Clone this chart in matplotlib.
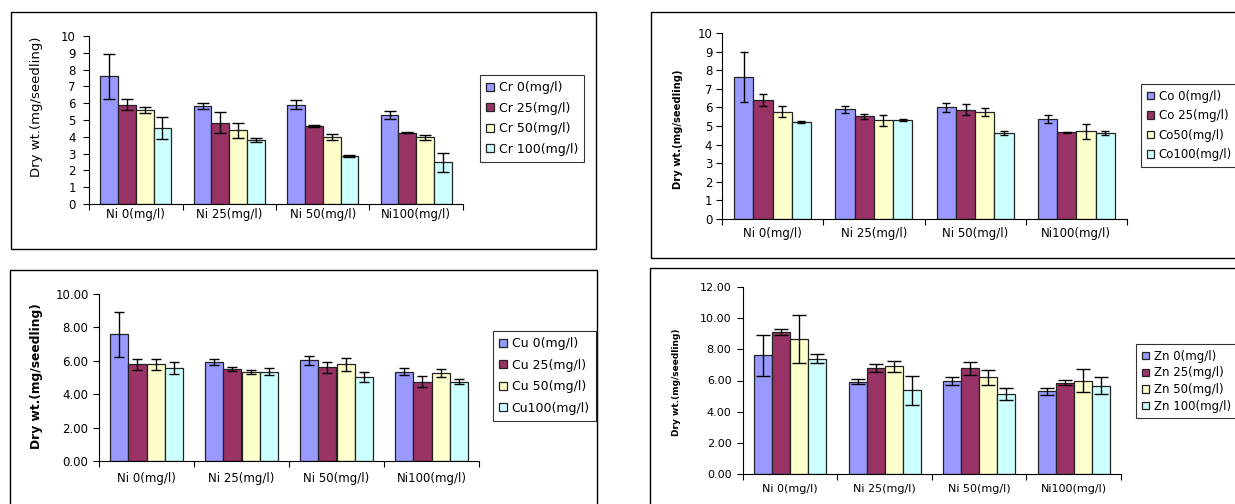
import numpy as np
import matplotlib
matplotlib.use("Agg")
import matplotlib.pyplot as plt
from matplotlib.patches import Rectangle
from matplotlib.ticker import FormatStrFormatter

# Excel-style wide text: DejaVu Sans is the closest wide sans
plt.rcParams["font.family"] = ["DejaVu Sans"]

W, H = 1235, 504

groups = ["Ni 0(mg/l)", "Ni 25(mg/l)", "Ni 50(mg/l)", "Ni100(mg/l)"]
colors = ["#9999FF", "#993366", "#FFFFCC", "#CCFFFF"]

# Cr panel
cr_labels = ["Cr 0(mg/l)", "Cr 25(mg/l)", "Cr 50(mg/l)", "Cr 100(mg/l)"]
cr_means = [[7.60, 5.86, 5.92, 5.29],
            [5.92, 4.85, 4.65, 4.24],
            [5.62, 4.38, 3.98, 3.98],
            [4.53, 3.80, 2.85, 2.48]]
cr_err = [[1.35, 0.18, 0.28, 0.26],
          [0.33, 0.62, 0.05, 0.02],
          [0.18, 0.45, 0.20, 0.15],
          [0.67, 0.10, 0.05, 0.55]]

# Co panel
co_labels = ["Co 0(mg/l)", "Co 25(mg/l)", "Co50(mg/l)", "Co100(mg/l)"]
co_means = [[7.63, 5.89, 6.01, 5.37],
            [6.41, 5.53, 5.87, 4.67],
            [5.76, 5.30, 5.76, 4.72],
            [5.22, 5.31, 4.61, 4.61]]
co_err = [[1.35, 0.20, 0.24, 0.23],
          [0.33, 0.14, 0.29, 0.03],
          [0.29, 0.30, 0.20, 0.40],
          [0.05, 0.05, 0.10, 0.10]]

# Cu panel
cu_labels = ["Cu 0(mg/l)", "Cu 25(mg/l)", "Cu 50(mg/l)", "Cu100(mg/l)"]
cu_means = [[7.58, 5.92, 6.02, 5.34],
            [5.78, 5.50, 5.62, 4.76],
            [5.78, 5.34, 5.78, 5.26],
            [5.56, 5.34, 5.04, 4.76]]
cu_err = [[1.35, 0.18, 0.28, 0.21],
          [0.35, 0.14, 0.33, 0.32],
          [0.35, 0.12, 0.40, 0.23],
          [0.34, 0.20, 0.29, 0.15]]

# Zn panel
zn_labels = ["Zn 0(mg/l)", "Zn 25(mg/l)", "Zn 50(mg/l)", "Zn 100(mg/l)"]
zn_means = [[7.61, 5.93, 5.97, 5.30],
            [9.11, 6.80, 6.78, 5.86],
            [8.68, 6.91, 6.20, 5.99],
            [7.40, 5.37, 5.13, 5.67]]
zn_err = [[1.34, 0.16, 0.26, 0.22],
          [0.19, 0.28, 0.42, 0.15],
          [1.55, 0.34, 0.49, 0.76],
          [0.27, 0.92, 0.40, 0.55]]


def px_rect(l, t, r, b):
    return [l / W, 1 - b / H, (r - l) / W, (b - t) / H]


fig = plt.figure(figsize=(W / 100, H / 100), dpi=100)

# panel frames
for l, t, r, b in [(11, 12, 596, 249), (651, 12, 1240, 258),
                   (10, 270, 597, 510), (650, 268, 1240, 510)]:
    fig.add_artist(Rectangle((l / W, 1 - b / H), (r - l) / W, (b - t) / H,
                             transform=fig.transFigure, fill=False,
                             edgecolor="black", linewidth=1.0))


def panel(box, means, errs, labels, ymax, ystep, fmt,
          ylab_xy, ylab_bold, ylab_fs, xpad, ypad,
          leg_xy, leg_fs, leg_space, fs=8.5, cap=3.5):
    ax = fig.add_axes(px_rect(*box))
    x = np.arange(len(groups)) + 0.5
    bw = 0.19
    for i in range(4):
        pos = x + (i - 1.5) * bw
        ax.bar(pos, means[i], bw, color=colors[i], edgecolor="#222222",
               linewidth=0.9, label=labels[i], zorder=2)
        ax.errorbar(pos, means[i], yerr=errs[i], fmt="none", ecolor="black",
                    elinewidth=1.0, capsize=cap, capthick=1.0, zorder=3)
    ax.set_xlim(0, 4)
    ax.set_ylim(0, ymax)
    ax.set_yticks(np.arange(0, ymax + 0.01, ystep))
    ax.yaxis.set_major_formatter(FormatStrFormatter(fmt))
    ax.set_xticks(np.arange(0, 5))
    ax.set_xticklabels([])
    ax.set_xticks(x, minor=True)
    ax.set_xticklabels(groups, minor=True)
    ax.tick_params(axis="x", which="major", direction="out", length=4, width=0.8)
    ax.tick_params(axis="x", which="minor", length=0, pad=xpad, labelsize=fs)
    ax.tick_params(axis="y", direction="out", length=4, width=0.8,
                   labelsize=fs, pad=ypad)
    for s in ["top", "right"]:
        ax.spines[s].set_visible(False)
    for s in ["left", "bottom"]:
        ax.spines[s].set_linewidth(0.8)
    ax.set_ylabel("Dry wt.(mg/seedling)", fontsize=ylab_fs,
                  fontweight="bold" if ylab_bold else "normal")
    ax.yaxis.set_label_coords(ylab_xy[0] / W, 1 - ylab_xy[1] / H,
                              transform=fig.transFigure)
    leg = ax.legend(loc="upper left",
                    bbox_to_anchor=(leg_xy[0] / W, 1 - leg_xy[1] / H),
                    bbox_transform=fig.transFigure, fontsize=leg_fs,
                    frameon=True, fancybox=False, edgecolor="black",
                    handlelength=0.6, handleheight=0.6, handletextpad=0.4,
                    labelspacing=leg_space, borderpad=0.5, borderaxespad=0)
    leg.get_frame().set_linewidth(0.8)
    return ax


panel((89, 36, 463, 204), cr_means, cr_err, cr_labels, 10, 1, "%d",
      (43, 107), False, 9.5, 3, 5.5, (480, 75), 9, 0.6, cap=4.3)
panel((722, 33, 1127, 219), co_means, co_err, co_labels, 10, 1, "%d",
      (683, 129), True, 7.2, 6, 3, (1141, 84), 8.5, 0.55, fs=8.5, cap=3.0)
panel((99, 294, 479, 461), cu_means, cu_err, cu_labels, 10, 2, "%.2f",
      (43, 376), True, 8.8, 8, 3.5, (493, 331), 9, 0.68, cap=3.5)
panel((743, 287, 1121, 474), zn_means, zn_err, zn_labels, 12, 2, "%.2f",
      (681, 382), True, 6.5, 7.5, 4.3, (1136, 344), 8.5, 0.3, fs=8, cap=5.0)

fig.savefig("out.png", dpi=100)
